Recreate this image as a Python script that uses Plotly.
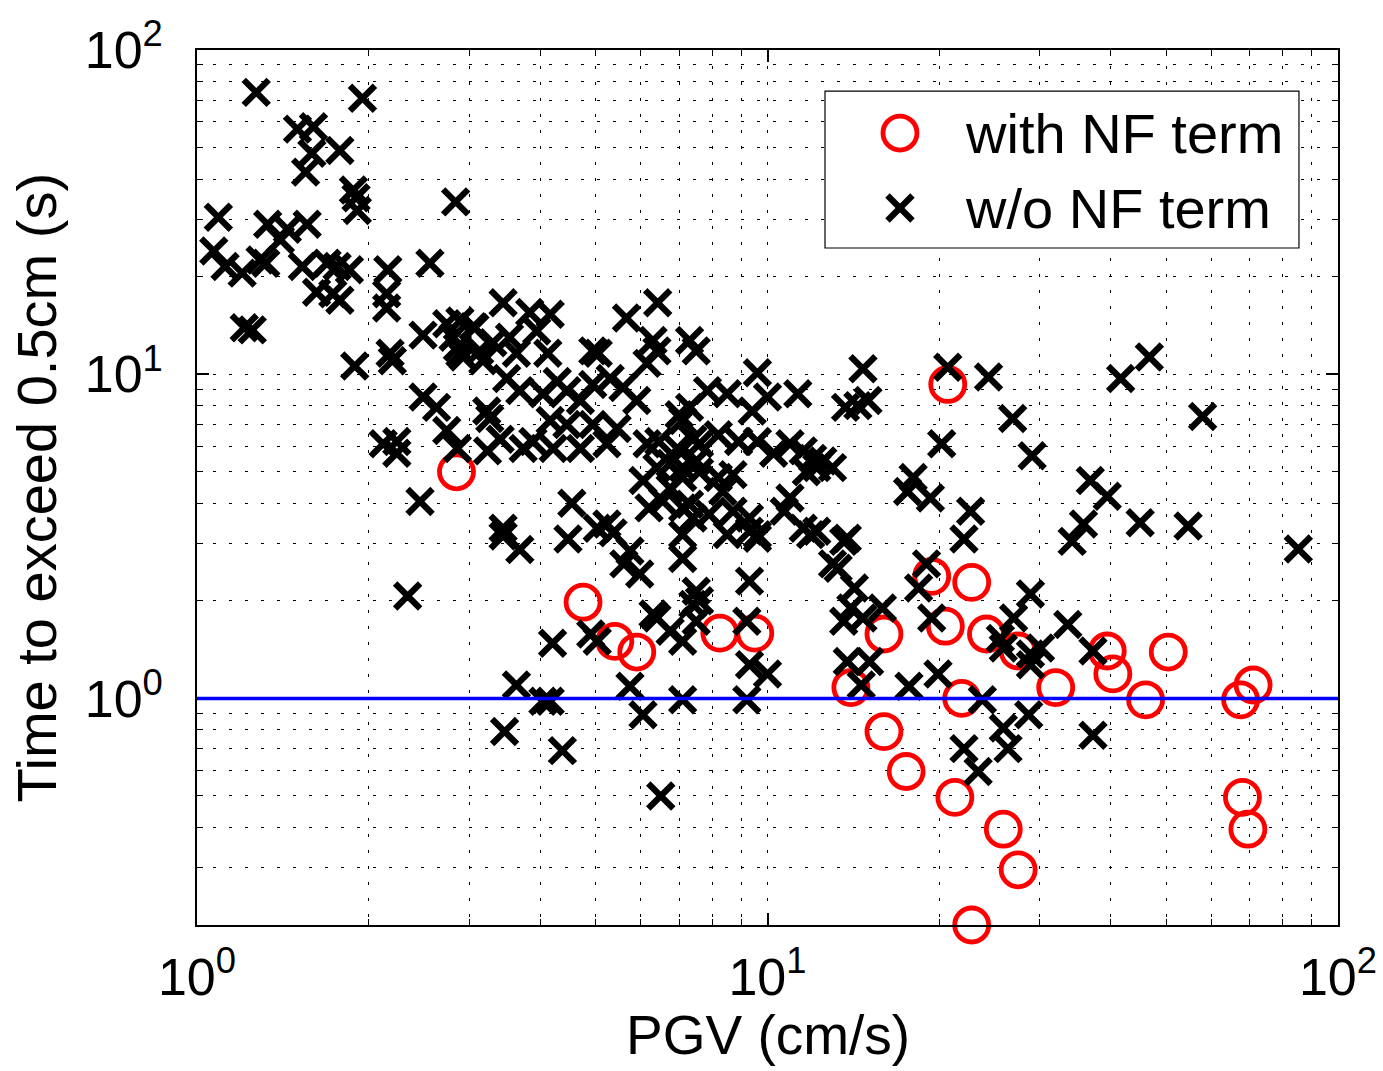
import math
import plotly.graph_objects as go

# ---------------- data ----------------
# "with NF term" (red circles)
nf_pgv = [2.85, 4.75, 5.4, 5.9, 8.25, 9.5, 20.7, 14.0, 16.0, 16.0,
          17.5, 19.4, 20.5, 22.8, 21.9, 21.3, 22.8, 24.2, 25.9, 27.5,
          27.5, 32.0, 39.4, 40.3, 46.0, 50.4, 67.5, 71.0, 68.0, 69.5]
nf_time = [5.0, 1.98, 1.50, 1.39, 1.59, 1.59, 9.3, 1.08, 1.58, 0.79,
           0.595, 2.38, 1.67, 2.28, 1.0, 0.495, 0.2, 1.58, 0.395, 0.296,
           1.40, 1.08, 1.40, 1.19, 0.99, 1.39, 0.99, 1.10, 0.495, 0.395]

# "w/o NF term" (black crosses)
wo_pgv = [1.27, 1.95, 1.50, 1.60, 1.59, 1.55, 1.78, 1.88, 1.91, 1.90,
          2.84, 1.09, 1.33, 1.44, 1.56, 1.40, 1.07, 1.12, 1.20, 1.29,
          1.32, 1.53, 1.69, 1.76, 1.85, 2.16, 2.56, 1.62, 1.73, 1.78,
          2.15, 2.15, 1.21, 1.25, 1.89, 2.18, 2.20, 2.49, 2.74, 2.81,
          2.89, 3.05, 3.13, 3.17, 2.49, 2.63, 2.74, 2.86, 3.22, 3.23,
          2.12, 2.24, 2.24, 2.46, 2.34, 3.44, 3.83, 4.16, 6.42, 5.66,
          2.89, 3.07, 3.53, 3.94, 4.12, 3.63, 3.30, 5.05, 4.94, 6.30,
          6.15, 7.30, 7.50, 2.86, 2.93, 4.28, 4.45, 4.04, 3.68, 3.49,
          5.30, 5.58, 5.90, 4.94, 4.70, 3.26, 4.16, 4.45, 4.94, 5.45,
          5.23, 4.70, 3.88, 3.73, 3.40, 4.21, 7.00, 7.30, 7.40, 6.95,
          6.15, 6.40, 6.05, 6.75, 7.10, 7.50, 4.54, 6.20, 6.55, 7.10,
          3.44, 5.23, 5.03, 3.44, 3.68, 4.47, 5.36, 5.74, 5.97, 5.60,
          6.30, 6.75, 7.10, 7.10, 7.10, 7.40, 7.40, 7.50, 4.20, 4.90,
          5.03, 3.63, 4.04, 4.16, 5.74, 6.05, 7.10, 3.46, 4.37, 6.50,
          6.40, 9.60, 14.7, 13.7, 14.4, 15.0, 7.85, 8.50, 11.3, 10.0,
          9.40, 7.10, 7.60, 8.20, 8.90, 9.60, 10.25, 10.95, 11.55, 12.5,
          13.0, 12.2, 6.45, 6.75, 7.10, 7.60, 8.20, 8.70, 8.35, 7.30,
          7.90, 8.70, 9.30, 9.60, 10.7, 10.95, 11.55, 12.2, 13.8, 9.30,
          9.30, 7.60, 6.40, 7.50, 9.20, 9.30, 10.0, 9.20, 13.3, 14.2,
          14.0, 13.6, 14.7, 15.9, 13.8, 14.6, 15.1, 8.50, 9.60, 11.9,
          13.6, 20.7, 24.4, 26.9, 20.2, 29.1, 12.0, 11.7, 18.0, 17.6,
          19.3, 22.7, 22.1, 13.0, 19.0, 36.8, 39.4, 35.8, 34.2, 18.4,
          19.4, 17.7, 19.9, 23.8, 25.9, 27.0, 28.9, 25.6, 28.9, 30.1,
          33.6, 28.9, 28.7, 25.9, 26.4, 22.1, 23.4, 37.2, 37.2, 46.7,
          41.6, 57.9, 45.0, 54.6, 85.2]
wo_time = [74, 71, 57, 58, 48, 42, 49, 37, 32, 35,
           34, 30.5, 29, 28, 29, 26, 24, 21.5, 20.5, 22.5,
           22, 21.5, 22, 21.5, 21, 21, 22, 17.9, 17.7, 16.9,
           17.7, 16.0, 13.9, 13.7, 10.6, 11.6, 11.0, 13.2, 14.3, 13.0,
           11.6, 14.0, 11.8, 11.0, 8.5, 7.9, 6.7, 5.9, 7.7, 5.8,
           6.1, 5.7, 6.2, 4.05, 2.07, 16.6, 15.5, 15.3, 16.6, 14.9,
           14.6, 13.9, 13.0, 13.6, 11.6, 11.6, 12.5, 11.6, 11.8, 12.7,
           10.8, 12.7, 11.8, 12.1, 11.3, 9.5, 8.9, 8.7, 8.9, 9.7,
           9.7, 9.1, 8.3, 9.3, 8.3, 7.3, 7.2, 7.0, 7.0, 6.8,
           6.1, 5.9, 6.2, 5.9, 6.3, 5.9, 7.5, 7.9, 6.3, 5.9,
           6.1, 5.15, 4.7, 4.45, 5.15, 5.4, 4.0, 3.87, 4.06, 3.87,
           3.35, 3.45, 3.35, 3.17, 2.88, 3.1, 3.24, 2.85, 2.42, 2.6,
           1.82, 1.61, 1.5, 2.7, 3.2, 3.6, 1.95, 2.14, 1.48, 1.58,
           1.5, 1.1, 0.98, 0.98, 1.09, 0.89, 0.99, 0.79, 0.69, 0.5,
           11.8, 10.1, 10.4, 7.9, 8.0, 8.3, 8.9, 8.7, 8.7, 8.5,
           7.7, 7.2, 6.1, 6.5, 6.2, 6.2, 5.7, 6.1, 5.8, 5.4,
           5.15, 5.15, 6.2, 5.3, 4.8, 5.0, 4.8, 4.9, 4.35, 3.97,
           3.7, 3.78, 3.6, 3.12, 3.78, 4.15, 3.35, 3.28, 3.12, 3.28,
           2.3, 2.0, 1.77, 1.73, 1.73, 1.27, 1.19, 0.99, 2.52, 2.19,
           1.9, 1.73, 1.77, 1.9, 1.3, 1.1, 1.3, 3.2, 3.2, 3.2,
           3.05, 10.5, 9.8, 7.3, 6.1, 5.6, 5.5, 5.0, 4.8, 4.35,
           4.15, 3.78, 3.1, 2.6, 2.6, 4.7, 4.2, 3.45, 3.05, 2.19,
           1.77, 1.09, 1.19, 0.99, 1.43, 1.77, 2.1, 1.53, 1.37, 1.43,
           1.69, 1.27, 0.89, 0.81, 0.70, 0.70, 0.595, 1.40, 0.77, 11.3,
           9.7, 7.4, 3.48, 3.4, 2.89]

threshold_time = 1.0
x_limits = [1, 100]
y_limits = [0.2, 100]
major_ticks = [1, 10, 100]
x_tick_text = ["10<sup>0</sup>", "10<sup>1</sup>", "10<sup>2</sup>"]
y_tick_text = ["10<sup>0</sup>", "10<sup>1</sup>", "10<sup>2</sup>"]
legend_labels = ["with NF term", "w/o NF term"]
x_title = "PGV (cm/s)"
y_title = "Time to exceed 0.5cm (s)"

# ---------------- styling ----------------
FONT = "Liberation Sans, Arial, Helvetica, sans-serif"
FS_TICK = 52
FS_TITLE = 56
RED = "#FF0000"
GRID_DASH = "3px,13px"

x_minor = [m * d for d in (1, 10) for m in range(2, 10)]
y_minor = [m * d for d in (0.1, 1, 10) for m in range(2, 10) if m * d >= 0.2 - 1e-9]

fig = go.Figure()

fig.add_trace(go.Scatter(
    x=nf_pgv, y=nf_time, mode="markers", name=legend_labels[0],
    cliponaxis=False,
    marker=dict(symbol="circle-open", size=34, color=RED,
                line=dict(color=RED, width=4.8)),
))
fig.add_trace(go.Scatter(
    x=wo_pgv, y=wo_time, mode="markers", name=legend_labels[1],
    cliponaxis=False,
    marker=dict(symbol="x-thin", size=25, color="black",
                line=dict(color="black", width=6.3)),
))

# threshold line across the full width of the axes
fig.add_shape(type="line", xref="paper", yref="y",
              x0=0, x1=1, y0=threshold_time, y1=threshold_time,
              line=dict(color="#0000FF", width=3.5), layer="above")


def axis_style(rng, minor_vals, tick_text, standoff):
    return dict(
        type="log",
        range=[math.log10(rng[0]), math.log10(rng[1])],
        tickmode="array", tickvals=major_ticks, ticktext=tick_text,
        ticks="inside", ticklen=12, tickwidth=1.5, tickcolor="black",
        ticklabelstandoff=standoff,
        showline=True, linecolor="black", linewidth=1.5, mirror="allticks",
        showgrid=True, gridcolor="black", gridwidth=1, griddash=GRID_DASH,
        zeroline=False, automargin=False,
        tickfont=dict(family=FONT, size=FS_TICK, color="black"),
        minor=dict(tickmode="array", tickvals=minor_vals,
                   ticks="inside", ticklen=6, tickwidth=1, tickcolor="black",
                   showgrid=True, gridcolor="black", gridwidth=1,
                   griddash=GRID_DASH),
    )


fig.update_layout(
    width=1383, height=1071,
    margin=dict(l=197, r=45, t=50, b=146, autoexpand=False),
    paper_bgcolor="white", plot_bgcolor="white",
    showlegend=False,
    font=dict(family=FONT, size=FS_TICK, color="black"),
    xaxis=axis_style(x_limits, x_minor, x_tick_text, 6),
    yaxis=axis_style(y_limits, y_minor, y_tick_text, 22),
)

# axis titles
fig.add_annotation(text=x_title, xref="paper", yref="paper", x=0.5, y=-0.1255,
                   xanchor="center", yanchor="middle", showarrow=False,
                   font=dict(family=FONT, size=55, color="black"))
fig.add_annotation(text=y_title, xref="paper", yref="paper", x=-0.141, y=0.5,
                   xanchor="center", yanchor="middle", textangle=-90,
                   showarrow=False,
                   font=dict(family=FONT, size=FS_TITLE, color="black"))

# legend (drawn as a boxed key so the symbols keep their plotted size)
leg_x0, leg_x1, leg_y0, leg_y1 = 0.5504, 0.9658, 0.7737, 0.9531
key_x = 0.6161
row_y = [0.9051, 0.8194]
text_x = 0.6713
fig.add_shape(type="rect", xref="paper", yref="paper",
              x0=leg_x0, x1=leg_x1, y0=leg_y0, y1=leg_y1,
              line=dict(color="black", width=1.2), fillcolor="white",
              layer="above")
fig.add_shape(type="circle", xref="paper", yref="paper",
              xsizemode="pixel", ysizemode="pixel",
              xanchor=key_x, yanchor=row_y[0],
              x0=-17, x1=17, y0=-17, y1=17,
              line=dict(color=RED, width=4.8), layer="above")
for sgn in (1, -1):
    fig.add_shape(type="line", xref="paper", yref="paper",
                  xsizemode="pixel", ysizemode="pixel",
                  xanchor=key_x, yanchor=row_y[1],
                  x0=-12.5, x1=12.5, y0=-12.5 * sgn, y1=12.5 * sgn,
                  line=dict(color="black", width=6.3), layer="above")
for lab, yy in zip(legend_labels, row_y):
    fig.add_annotation(text=lab, xref="paper", yref="paper", x=text_x, y=yy,
                       xanchor="left", yanchor="middle", showarrow=False,
                       font=dict(family=FONT, size=FS_TITLE, color="black"))

fig.write_html("out.html")
